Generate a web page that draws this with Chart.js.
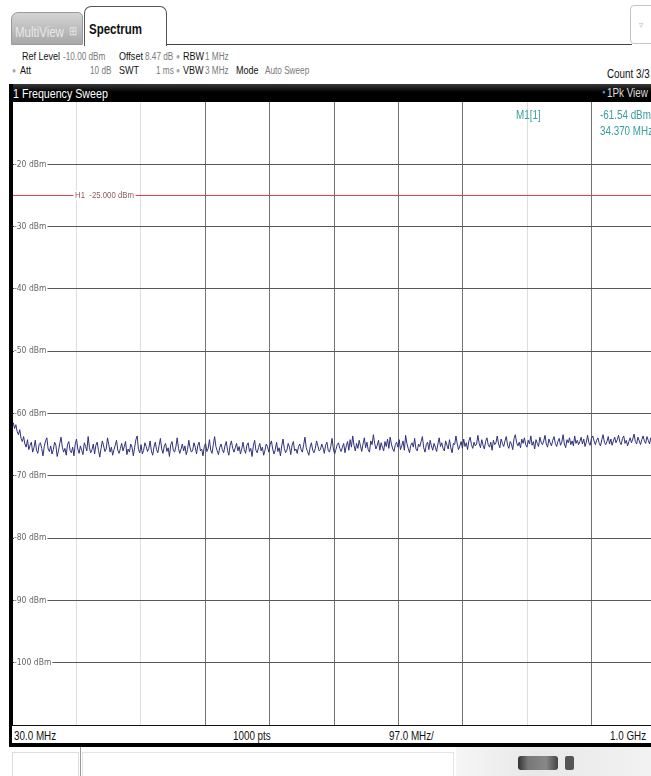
<!DOCTYPE html>
<html>
<head>
<meta charset="utf-8">
<script src="https://cdn.jsdelivr.net/npm/chart.js@4.4.1/dist/chart.umd.min.js"></script>
<style>
  html, body { margin: 0; padding: 0; background: #fff; }
  body { width: 651px; height: 776px; position: relative; overflow: hidden;
         font-family: 'Liberation Sans', Arial, sans-serif; }
  /* texte étroit façon Arial Narrow */
  .t { position: absolute; white-space: nowrap; line-height: 1;
       transform: scaleX(0.82); transform-origin: 0 0; }
  .k { color: #111; font-size: 11px; }
  .v { color: #7a7a7a; font-size: 10px; }
  .dot { color: #9aa6b8; font-size: 8px; }
  #plot { position: absolute; left: 12px; top: 102px; width: 644px; height: 625px; }
</style>
</head>
<body>

<!-- onglets -->
<div style="position:absolute;left:11px;top:12px;width:72px;height:33px;border-radius:7px 5px 0 0;background:linear-gradient(#d4d4d4,#a8a8a8);border:1px solid #9a9a9a;box-sizing:border-box;"></div>
<div class="t" style="left:15px;top:25px;font-size:14px;color:#e8e8e8;">MultiView</div>
<div class="t" style="left:69px;top:25px;font-size:12px;color:#e4e4e4;">&#8862;</div>
<div style="position:absolute;left:84px;top:6px;width:83px;height:40px;border:1px solid #555;border-bottom:none;border-radius:7px 7px 0 0;background:#fff;box-sizing:border-box;"></div>
<div class="t" style="left:89px;top:22px;font-size:14px;font-weight:bold;color:#111;">Spectrum</div>
<div style="position:absolute;left:166px;top:44px;width:466px;height:1px;background:#444;"></div>
<div style="position:absolute;left:630px;top:5px;width:30px;height:39px;border:1px solid #c4c4c4;border-radius:4px;box-sizing:border-box;"></div>
<div class="t" style="left:639px;top:20px;font-size:10px;color:#bbb;">&#9663;</div>

<!-- lignes de réglages -->
<div class="t k" style="left:22px;top:51px;">Ref Level</div>
<div class="t v" style="left:63px;top:52px;">-10.00 dBm</div>
<div class="t k" style="left:119px;top:51px;">Offset</div>
<div class="t v" style="left:145px;top:52px;">8.47 dB</div>
<div class="t dot" style="left:176px;top:53px;">&#9679;</div>
<div class="t k" style="left:183px;top:51px;">RBW</div>
<div class="t v" style="left:205px;top:52px;">1 MHz</div>

<div class="t dot" style="left:12px;top:67px;">&#9679;</div>
<div class="t k" style="left:20px;top:65px;">Att</div>
<div class="t v" style="left:90px;top:66px;">10 dB</div>
<div class="t k" style="left:119px;top:65px;">SWT</div>
<div class="t v" style="left:156px;top:66px;">1 ms</div>
<div class="t dot" style="left:176px;top:67px;">&#9679;</div>
<div class="t k" style="left:183px;top:65px;">VBW</div>
<div class="t v" style="left:205px;top:66px;">3 MHz</div>
<div class="t k" style="left:236px;top:65px;">Mode</div>
<div class="t v" style="left:265px;top:66px;">Auto Sweep</div>
<div class="t k" style="left:607px;top:68px;font-size:12px;">Count 3/3</div>

<!-- barre de titre -->
<div style="position:absolute;left:10px;top:84px;width:641px;height:18px;background:linear-gradient(#3a3a3a,#000 45%);"></div>
<div class="t" style="left:13px;top:87px;font-size:13px;color:#fff;">1 Frequency Sweep</div>
<div class="t" style="left:602px;top:88px;font-size:7px;color:#4a8ad0;">&#9679;</div>
<div class="t" style="left:607px;top:87px;font-size:12px;color:#ddd;">1Pk View</div>

<!-- zone du graphique -->
<div id="plot"><canvas id="spectrumChart" width="644" height="625"></canvas></div>
<div style="position:absolute;left:9px;top:84px;width:4px;height:663px;background:#000;"></div>

<!-- info marqueur -->
<div class="t" style="left:516px;top:109px;font-size:12px;color:#3a9c9c;">M1[1]</div>
<div class="t" style="left:600px;top:109px;font-size:12px;color:#3a9c9c;">-61.54 dBm</div>
<div class="t" style="left:600px;top:125px;font-size:12px;color:#3a9c9c;">34.370 MHz</div>

<!-- pied -->
<div style="position:absolute;left:12px;top:725px;width:639px;height:1px;background:#111;"></div>
<div style="position:absolute;left:12px;top:726px;width:639px;height:17px;background:#fff;"></div>
<div class="t k" style="left:14px;top:730px;font-size:12px;">30.0 MHz</div>
<div class="t k" style="left:233px;top:730px;font-size:12px;">1000 pts</div>
<div class="t k" style="left:389px;top:730px;font-size:12px;">97.0 MHz/</div>
<div class="t k" style="left:610px;top:730px;font-size:12px;">1.0 GHz</div>
<div style="position:absolute;left:9px;top:743px;width:642px;height:4px;background:#000;"></div>

<div style="position:absolute;left:12px;top:752px;width:67px;height:30px;border:1px solid #ddd;box-sizing:border-box;"></div>
<div style="position:absolute;left:80px;top:747px;width:1px;height:29px;background:#999;"></div>
<div style="position:absolute;left:82px;top:752px;width:372px;height:30px;border:1px solid #e4e4e4;box-sizing:border-box;"></div>
<div style="position:absolute;left:456px;top:747px;width:195px;height:29px;background:linear-gradient(90deg,#f6f6f6,#e8e8e8 40%,#f2f2f2);"></div>
<div style="position:absolute;left:518px;top:756px;width:40px;height:14px;border-radius:3px;background:linear-gradient(90deg,#333,#777 25%,#888 70%,#444);"></div>
<div style="position:absolute;left:565px;top:756px;width:9px;height:14px;border-radius:2px;background:#555;"></div>

<script>
// Balayage : 30 MHz -> 1 GHz, 97 MHz/div
const startMHz = 30;
const stopMHz = 1000;
const freqDivs = [30, 127, 224, 321, 418, 515, 612, 709, 806, 903, 1000];
const faintDivs = [1, 2, 8]; // lignes presque effacées sur la copie
const levelTicks = [-110, -100, -90, -80, -70, -60, -50, -40, -30, -20, -10];
const h1Level = -25;

const traceDbm = [
    -61.9, -61.5, -62.4, -61.8, -62.9, -63.4, -62.6, -64.0, -64.5, -63.7,
    -64.9, -65.4, -64.2, -65.8, -65.1, -64.6, -66.2, -65.5, -64.3, -65.9,
    -66.4, -65.0, -64.7, -65.6, -66.8, -65.3, -64.4, -63.9, -65.7, -66.1,
    -65.2, -66.5, -65.8, -64.6, -65.1, -66.9, -66.0, -64.8, -63.8, -65.4,
    -66.2, -65.6, -66.7, -65.0, -64.5, -65.9, -66.3, -65.4, -66.8, -64.9,
    -64.1, -65.7, -66.4, -65.2, -65.9, -66.6, -64.7, -65.3, -66.0, -63.7,
    -65.5, -66.3, -65.8, -64.9, -66.5, -65.1, -64.6, -65.9, -67.0, -65.6,
    -64.4, -65.2, -66.1, -65.7, -63.9, -65.0, -66.2, -65.4, -66.7, -65.8,
    -65.1, -64.3, -65.9, -66.4, -65.6, -64.8, -66.0, -65.3, -64.5, -66.6,
    -65.7, -66.2, -64.9, -65.4, -66.8, -65.5, -64.2, -63.6, -65.8, -66.3,
    -65.0, -66.5, -65.9, -64.7, -65.3, -66.1, -65.6, -64.4, -66.0, -66.7,
    -65.4, -64.6, -65.8, -66.3, -65.1, -64.0, -65.7, -66.4, -65.2, -64.8,
    -66.1, -65.5, -66.9, -65.0, -64.5, -65.9, -66.2, -65.3, -63.9, -65.6,
    -66.4, -65.7, -64.9, -66.0, -65.2, -66.6, -65.8, -64.3, -65.5, -66.2,
    -65.9, -64.7, -65.4, -66.5, -65.1, -64.6, -66.0, -65.7, -66.8, -65.3,
    -64.8, -66.1, -65.6, -64.2, -65.9, -66.4, -65.0, -63.7, -65.3, -66.0,
    -66.6, -65.4, -64.9, -65.8, -66.3, -65.2, -64.5, -65.9, -66.7, -65.1,
    -64.4, -65.6, -66.2, -65.5, -64.8, -66.0, -65.3, -66.5, -65.7, -64.6,
    -65.8, -66.4, -65.1, -64.7, -66.1, -65.6, -66.9, -65.2, -64.3, -65.9,
    -66.3, -65.5, -64.8, -66.0, -65.4, -66.7, -65.9, -64.9, -65.3, -66.2,
    -65.0, -64.4, -65.7, -66.5, -65.8, -64.6, -66.1, -65.5, -66.8, -65.2,
    -64.1, -65.6, -66.3, -65.9, -64.8, -65.4, -66.6, -65.1, -64.5, -66.0,
    -65.7, -66.4, -65.3, -64.9, -65.8, -66.2, -65.0, -63.8, -65.5, -66.1,
    -66.7, -65.4, -64.7, -65.9, -66.3, -65.6, -64.4, -65.2, -66.0, -65.8,
    -64.9, -65.5, -66.4, -65.1, -64.6, -65.9, -66.2, -65.3, -64.0, -65.7,
    -66.5, -65.8, -65.0, -64.7, -65.6, -66.1, -65.4, -64.8, -66.3, -65.2,
    -64.5, -65.9, -64.2, -65.4, -63.6, -65.1, -66.0, -64.8, -65.6, -64.3,
    -65.2, -66.1, -64.9, -63.9, -65.5, -64.6, -65.8, -66.2, -64.4, -65.0,
    -63.4, -64.8, -65.7, -65.1, -64.3, -65.9, -64.7, -65.4, -66.0, -64.5,
    -65.3, -64.1, -65.6, -63.8, -64.9, -65.7, -66.1, -65.0, -64.6, -65.4,
    -64.2, -65.8, -65.2, -64.4, -65.9, -63.5, -64.8, -65.6, -66.3, -65.1,
    -64.7, -65.4, -64.0, -65.7, -66.0, -64.9, -65.3, -64.5, -63.7, -65.5,
    -66.2, -65.0, -64.6, -65.8, -64.3, -65.2, -65.9, -64.8, -65.4, -66.1,
    -64.9, -63.9, -65.3, -64.7, -65.6, -66.0, -64.4, -65.1, -65.7, -64.2,
    -65.5, -66.3, -64.8, -65.0, -63.6, -64.9, -65.8, -65.2, -64.5, -65.6,
    -64.1, -65.3, -64.7, -65.8, -64.4, -63.8, -65.0, -65.6, -64.6, -65.2,
    -64.9, -63.5, -64.8, -65.5, -64.2, -65.1, -65.7, -64.5, -63.9, -65.0,
    -65.4, -64.6, -65.9, -64.3, -65.0, -64.7, -63.6, -64.9, -65.5, -64.1,
    -64.8, -65.3, -64.4, -63.7, -65.1, -65.6, -64.5, -64.9, -65.8, -64.0,
    -63.4, -64.7, -65.2, -64.6, -65.5, -64.1, -64.8, -63.9, -65.0, -65.4,
    -64.3, -64.9, -63.6, -65.1, -64.5, -65.7, -64.2, -64.8, -65.3, -63.8,
    -64.6, -65.0, -64.4, -63.5, -64.9, -65.4, -64.1, -64.7, -65.2, -64.3,
    -63.7, -64.8, -65.3, -64.5, -64.0, -65.1, -64.6, -63.4, -64.9, -65.5,
    -64.2, -64.7, -63.9, -65.0, -64.4, -65.2, -63.6, -64.8, -64.3, -65.0,
    -64.5, -63.8, -64.9, -64.1, -65.3, -64.6, -63.5, -64.7, -65.1, -64.0,
    -63.6, -64.4, -65.0, -64.3, -63.9, -64.8, -65.2, -64.2, -63.4, -64.6,
    -65.0, -64.5, -63.7, -64.9, -64.1, -65.1, -64.4, -63.8, -64.7, -64.2,
    -63.5, -64.6, -65.0, -64.0, -63.6, -64.8, -64.3, -65.2, -64.5, -63.9,
    -64.7, -64.1, -63.3, -64.5, -64.9, -63.8, -64.4, -65.0, -64.2, -63.6,
    -64.4, -64.8, -63.7, -64.3, -64.9, -63.9, -64.6, -64.1, -63.5, -64.3
];

const fontNarrow = "'DejaVu Sans Condensed', 'Liberation Sans', sans-serif";

// points du balayage répartis de start à stop
const tracePoints = traceDbm.map((v, i) => ({
    x: startMHz + i * (stopMHz - startMHz) / (traceDbm.length - 1),
    y: v
}));

// étiquette de la ligne H1
const h1LabelMHz = 125;
const h1Label = {
    id: 'h1Label',
    afterDatasetsDraw(chart) {
        const { ctx, scales: { x, y } } = chart;
        const px = x.getPixelForValue(h1LabelMHz);
        const py = y.getPixelForValue(h1Level);
        const text = 'H1  -25.000 dBm';
        ctx.save();
        ctx.translate(px, py);
        ctx.scale(0.82, 1);
        ctx.font = '9.5px "Liberation Sans", sans-serif';
        const w = ctx.measureText(text).width;
        ctx.fillStyle = '#fff';
        ctx.fillRect(-2, -5, w + 4, 10);
        ctx.fillStyle = '#8d5e5e';
        ctx.textBaseline = 'middle';
        ctx.fillText(text, 0, 0);
        ctx.restore();
    }
};

new Chart(document.getElementById('spectrumChart'), {
    type: 'line',
    data: {
        datasets: [{
            label: '1Pk View',
            data: tracePoints,
            borderColor: '#30307c',
            borderWidth: 1,
            pointRadius: 0,
            tension: 0
        }, {
            label: 'H1',
            data: [{ x: startMHz, y: h1Level }, { x: stopMHz, y: h1Level }],
            borderColor: '#cf4040',
            borderWidth: 1,
            pointRadius: 0
        }]
    },
    options: {
        responsive: false,
        animation: false,
        layout: { padding: { bottom: 2 } },
        plugins: {
            legend: { display: false },
            tooltip: { enabled: false }
        },
        scales: {
            x: {
                type: 'linear',
                min: startMHz,
                max: stopMHz,
                afterBuildTicks: s => { s.ticks = freqDivs.map(v => ({ value: v })); },
                ticks: { display: false },
                grid: {
                    color: ctx => faintDivs.includes(ctx.index) ? '#dedede' : '#727272',
                    lineWidth: 1,
                    drawTicks: false
                },
                border: { display: false }
            },
            y: {
                min: -110,
                max: -10,
                afterBuildTicks: s => { s.ticks = levelTicks.map(v => ({ value: v })); },
                afterFit: s => { s.width = 0; s.paddingTop = 0; s.paddingBottom = 0; },
                ticks: {
                    mirror: true,
                    padding: 2,
                    color: '#666',
                    font: { family: fontNarrow, size: 8.5 },
                    showLabelBackdrop: true,
                    backdropColor: '#fff',
                    backdropPadding: { top: 0, bottom: 0, left: 0, right: 1 },
                    callback: v => (v === -10 || v === -110) ? null : v + ' dBm'
                },
                grid: { color: '#575757', lineWidth: 1, drawTicks: false },
                border: { display: false }
            }
        }
    },
    plugins: [h1Label]
});
</script>
</body>
</html>
